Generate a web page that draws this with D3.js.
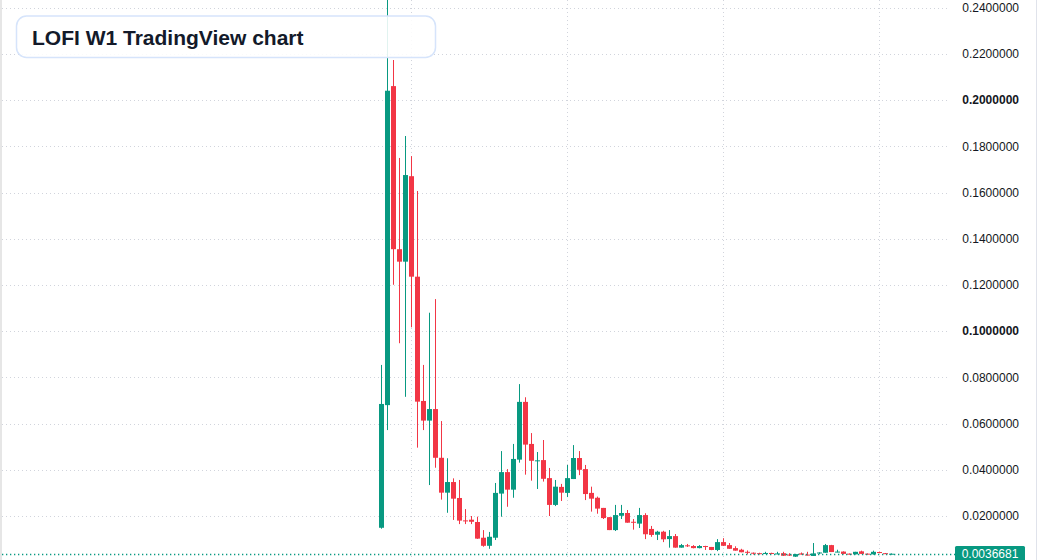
<!DOCTYPE html>
<html>
<head>
<meta charset="utf-8">
<script src="https://cdn.jsdelivr.net/npm/d3@7"></script>
<style>
  html, body { margin: 0; padding: 0; background: #ffffff; }
  svg { display: block; }
</style>
</head>
<body>
<svg id="chart" width="1037" height="560"></svg>
<script>
// ---- data (weekly candles) ----
const title = "LOFI W1 TradingView chart";
const opens = [
  0.0149, 0.0680, 0.2061, 0.1355, 0.1301, 0.1671, 0.1236, 0.0698, 0.0613, 0.0663,
  0.0452, 0.0301, 0.0347, 0.0278, 0.0181, 0.0184, 0.0174, 0.0106, 0.0071, 0.0106,
  0.0297, 0.0390, 0.0314, 0.0444, 0.0694, 0.0512, 0.0439, 0.0442, 0.0364, 0.0248,
  0.0326, 0.0300, 0.0360, 0.0451, 0.0403, 0.0300, 0.0279, 0.0235, 0.0195, 0.0139,
  0.0201, 0.0213, 0.0175, 0.0167, 0.0204, 0.0144, 0.0119, 0.0132, 0.0100, 0.0113,
  0.0063, 0.0073, 0.0070, 0.0061, 0.0070, 0.0066, 0.0053, 0.0087, 0.0074, 0.0061,
  0.0054, 0.0045, 0.0041, 0.0039, 0.0036, 0.0040, 0.0036, 0.0039, 0.0033, 0.0024,
  0.0038, 0.0033, 0.0027, 0.0038, 0.0041, 0.0074, 0.0044, 0.0046, 0.0037, 0.0034,
  0.0047, 0.0037, 0.0034, 0.0044, 0.0039, 0.0036
];
const highs = [
  0.0854, 0.2650, 0.2174, 0.1750, 0.1845, 0.1758, 0.1607, 0.0854, 0.1080, 0.1139,
  0.0611, 0.0450, 0.0363, 0.0356, 0.0230, 0.0200, 0.0197, 0.0139, 0.0131, 0.0343,
  0.0481, 0.0403, 0.0512, 0.0771, 0.0714, 0.0559, 0.0477, 0.0529, 0.0408, 0.0356,
  0.0339, 0.0421, 0.0507, 0.0481, 0.0421, 0.0327, 0.0284, 0.0235, 0.0195, 0.0248,
  0.0248, 0.0226, 0.0187, 0.0235, 0.0212, 0.0157, 0.0136, 0.0136, 0.0139, 0.0122,
  0.0079, 0.0079, 0.0074, 0.0074, 0.0071, 0.0066, 0.0100, 0.0104, 0.0083, 0.0069,
  0.0058, 0.0051, 0.0042, 0.0041, 0.0045, 0.0041, 0.0045, 0.0045, 0.0039, 0.0036,
  0.0042, 0.0045, 0.0083, 0.0043, 0.0079, 0.0075, 0.0054, 0.0047, 0.0038, 0.0045,
  0.0050, 0.0038, 0.0050, 0.0046, 0.0040, 0.0038
];
const lows = [
  0.0145, 0.0572, 0.1201, 0.0948, 0.0716, 0.1017, 0.0496, 0.0572, 0.0334, 0.0409,
  0.0271, 0.0214, 0.0183, 0.0165, 0.0165, 0.0165, 0.0101, 0.0067, 0.0058, 0.0096,
  0.0197, 0.0240, 0.0279, 0.0431, 0.0379, 0.0353, 0.0317, 0.0349, 0.0200, 0.0243,
  0.0265, 0.0282, 0.0360, 0.0377, 0.0269, 0.0219, 0.0210, 0.0187, 0.0139, 0.0135,
  0.0187, 0.0171, 0.0141, 0.0148, 0.0100, 0.0110, 0.0096, 0.0087, 0.0063, 0.0063,
  0.0063, 0.0066, 0.0060, 0.0060, 0.0053, 0.0052, 0.0048, 0.0070, 0.0058, 0.0050,
  0.0043, 0.0034, 0.0033, 0.0034, 0.0035, 0.0035, 0.0035, 0.0027, 0.0027, 0.0023,
  0.0033, 0.0029, 0.0027, 0.0035, 0.0041, 0.0044, 0.0043, 0.0034, 0.0034, 0.0034,
  0.0035, 0.0033, 0.0033, 0.0039, 0.0036, 0.0035
];
const closes = [
  0.0685, 0.2041, 0.1355, 0.1301, 0.1676, 0.1236, 0.0695, 0.0613, 0.0663, 0.0452,
  0.0301, 0.0347, 0.0275, 0.0180, 0.0179, 0.0175, 0.0102, 0.0071, 0.0110, 0.0300,
  0.0390, 0.0314, 0.0447, 0.0694, 0.0509, 0.0439, 0.0441, 0.0361, 0.0248, 0.0327,
  0.0301, 0.0364, 0.0451, 0.0400, 0.0295, 0.0275, 0.0232, 0.0191, 0.0139, 0.0204,
  0.0213, 0.0171, 0.0173, 0.0204, 0.0121, 0.0118, 0.0132, 0.0099, 0.0113, 0.0063,
  0.0074, 0.0071, 0.0061, 0.0070, 0.0066, 0.0053, 0.0087, 0.0071, 0.0058, 0.0050,
  0.0043, 0.0043, 0.0040, 0.0036, 0.0040, 0.0036, 0.0038, 0.0028, 0.0030, 0.0035,
  0.0033, 0.0031, 0.0038, 0.0042, 0.0074, 0.0044, 0.0046, 0.0036, 0.0036, 0.0045,
  0.0036, 0.0036, 0.0045, 0.0040, 0.0037, 0.0036681
];
const priceTicks = [0.24, 0.22, 0.20, 0.18, 0.16, 0.14, 0.12, 0.10, 0.08, 0.06, 0.04, 0.02];
const boldTicks = [0.20, 0.10];
const timeGridIdx = [5, 31, 57, 83];
const lastPrice = 0.0036681;

// ---- layout ----
const W = 1037, H = 560;
const plotRight = 950;
const UP = "#089981", DOWN = "#f23645";

const svg = d3.select("#chart");
const y = d3.scaleLinear().domain([0, 0.24]).range([562.2, 7.8]);
const x = d3.scaleLinear().domain([0, 85]).range([381.5, 891.5]);

const candles = opens.map((o, i) => ({ i, o, h: highs[i], l: lows[i], c: closes[i] }));

// background
svg.append("rect").attr("width", W).attr("height", H).attr("fill", "#ffffff");

// borders
svg.append("rect").attr("x", 0).attr("y", 0).attr("width", 2).attr("height", H).attr("fill", "#e6e6e6");
svg.append("rect").attr("x", 1036).attr("y", 0).attr("width", 1).attr("height", H).attr("fill", "#e0e3eb");

// horizontal grid
svg.append("g").selectAll("line").data(priceTicks).join("line")
  .attr("x1", 2).attr("x2", plotRight)
  .attr("y1", d => Math.round(y(d)) + 0.5).attr("y2", d => Math.round(y(d)) + 0.5)
  .attr("stroke", "#d1d4dc").attr("stroke-width", 1).attr("stroke-dasharray", "1,3");

// vertical grid
svg.append("g").selectAll("line").data(timeGridIdx).join("line")
  .attr("x1", d => Math.floor(x(d)) + 0.5).attr("x2", d => Math.floor(x(d)) + 0.5)
  .attr("y1", 0).attr("y2", H)
  .attr("stroke", "#d1d4dc").attr("stroke-width", 1).attr("stroke-dasharray", "1,3");

// candles
const plot = svg.append("g");
plot.selectAll("rect.wick").data(candles).join("rect")
  .attr("class", "wick")
  .attr("x", d => Math.floor(x(d.i)))
  .attr("width", 1)
  .attr("y", d => Math.max(0, y(d.h)))
  .attr("height", d => Math.max(1, y(d.l) - Math.max(0, y(d.h))))
  .attr("fill", d => d.c >= d.o ? UP : DOWN);

plot.selectAll("rect.body").data(candles).join("rect")
  .attr("class", "body")
  .attr("x", d => Math.floor(x(d.i)) - 2)
  .attr("width", 5)
  .attr("y", d => y(Math.max(d.o, d.c)))
  .attr("height", d => Math.max(1, Math.abs(y(d.o) - y(d.c))))
  .attr("fill", d => d.c >= d.o ? UP : DOWN);

// last price line
svg.append("line")
  .attr("x1", 2).attr("x2", 955)
  .attr("y1", Math.round(y(lastPrice)) + 0.5).attr("y2", Math.round(y(lastPrice)) + 0.5)
  .attr("stroke", UP).attr("stroke-width", 1.3).attr("stroke-dasharray", "1.3,2.7");

// price axis labels
svg.append("g").selectAll("text").data(priceTicks).join("text")
  .attr("x", 1019).attr("y", d => y(d))
  .attr("dy", "0.35em")
  .attr("text-anchor", "end")
  .attr("font-family", "'Liberation Sans', Arial, sans-serif")
  .attr("font-size", 12)
  .attr("font-weight", d => boldTicks.some(b => Math.abs(b - d) < 1e-9) ? "bold" : "normal")
  .attr("fill", "#131722")
  .text(d => d.toFixed(7));

// last price tag
const ly = y(lastPrice);
svg.append("rect")
  .attr("x", 955).attr("y", Math.round(ly) - 8).attr("width", 70).attr("height", 17)
  .attr("rx", 1.5)
  .attr("fill", UP);
svg.append("text")
  .attr("x", 990).attr("y", ly + 0.5).attr("dy", "0.35em")
  .attr("text-anchor", "middle")
  .attr("font-family", "'Liberation Sans', Arial, sans-serif")
  .attr("font-size", 12)
  .attr("fill", "#ffffff")
  .text(lastPrice.toFixed(7));

// title box
svg.append("rect")
  .attr("x", 16.5).attr("y", 16).attr("width", 419).attr("height", 41.5)
  .attr("rx", 10)
  .attr("fill", "rgba(255,255,255,0.88)")
  .attr("stroke", "#d6e4fb").attr("stroke-width", 1.5);
svg.append("text")
  .attr("x", 32).attr("y", 44.5)
  .attr("font-family", "'Liberation Sans', Arial, sans-serif")
  .attr("font-size", 21)
  .attr("font-weight", "bold")
  .attr("fill", "#131a2a")
  .text(title);
</script>
</body>
</html>
